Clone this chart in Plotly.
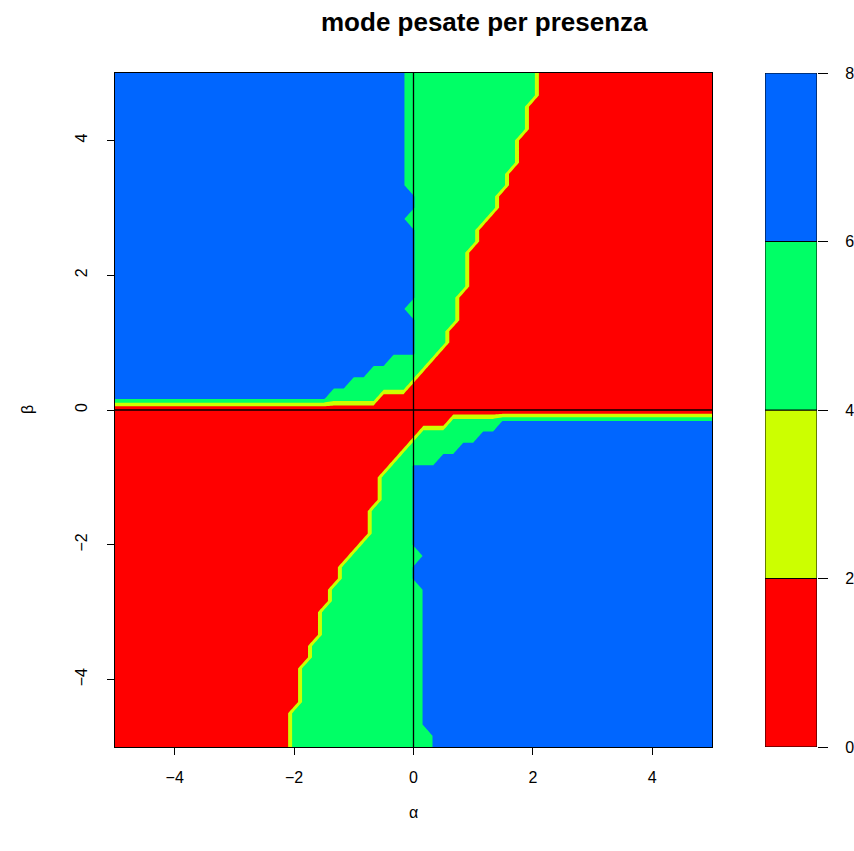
import numpy as np
import plotly.graph_objects as go

# Parameter grid (61 x 61, step 1/6)
alpha = np.linspace(-5, 5, 61)
beta = np.linspace(-5, 5, 61)

# Weighted mode value carried by each region
mode_value = {"red": 0.0, "green": 5.0, "blue": 6.1}

# Rows beta > 0 (beta = 1/6 ... 5): blue left of green start, red from red start
upper_green_start = [22, 24, 26, 28, 31, 31, 31, 31, 30, 31, 31, 31, 31, 31, 31,
                     31, 30, 31, 31, 30, 30, 30, 30, 30, 30, 30, 30, 30, 30, 30]
upper_red_start = [27, 30, 31, 32, 33, 34, 34, 35, 35, 35, 36, 36, 36, 36, 37,
                   37, 38, 39, 39, 40, 40, 41, 41, 41, 42, 42, 42, 43, 43, 43]

# Rows beta < 0 (beta = -5 ... -1/6): red left of green start, blue from blue start
lower_green_start = [18, 18, 18, 18, 19, 19, 19, 19, 20, 20, 21, 21, 21, 22, 22,
                     23, 23, 24, 25, 26, 26, 26, 27, 27, 27, 28, 29, 30, 31, 34]
lower_blue_start = [32, 32, 31, 31, 31, 31, 31, 31, 31, 31, 31, 31, 31, 31, 31,
                    30, 30, 31, 30, 30, 30, 30, 30, 30, 30, 30, 33, 35, 37, 39]

# Contour levels and the colours of the bands between them
levels = [0, 2, 4, 6, 8]
band_colors = ["#FF0000", "#CCFF00", "#00FF66", "#0066FF"]

n = len(alpha)
mid = n // 2
z = np.full((n, n), mode_value["red"])
for k in range(mid):
    j = k
    g0, b0 = lower_green_start[k], lower_blue_start[k]
    z[j, :g0] = mode_value["red"]
    z[j, g0:b0] = mode_value["green"]
    z[j, b0:] = mode_value["blue"]
for k in range(mid):
    j = mid + 1 + k
    g0, r0 = upper_green_start[k], upper_red_start[k]
    z[j, :g0] = mode_value["blue"]
    z[j, g0:r0] = mode_value["green"]
    z[j, r0:] = mode_value["red"]

# Step colour scale: plotly colours each filled band at its mid value
inner = levels[1:-1]
step = inner[1] - inner[0]
lo, hi = inner[0] - step / 2, inner[-1] + step / 2
cuts = [(lv - lo) / (hi - lo) for lv in inner]
colorscale = []
edges = [0.0] + cuts + [1.0]
for c, a, b in zip(band_colors, edges[:-1], edges[1:]):
    colorscale += [[a, c], [b, c]]

W, H = 854, 851
px0, px1 = 115, 712
py_top, py_bot = 73, 747
kx0, kx1 = 765, 817

family = "Liberation Sans, Arial, sans-serif"
font = dict(family=family, size=16, color="black")

fig = go.Figure()
fig.add_trace(go.Contour(
    x=alpha, y=beta, z=z,
    autocontour=False,
    contours=dict(start=inner[0], end=inner[-1], size=step,
                  coloring="fill", showlines=False),
    line=dict(width=0, smoothing=0),
    colorscale=colorscale, showscale=False, hoverinfo="skip",
    xaxis="x", yaxis="y",
))

# Colour key: one box per band
fig.add_trace(go.Bar(
    x=[0] * (len(levels) - 1),
    y=[b - a for a, b in zip(levels[:-1], levels[1:])],
    base=levels[:-1],
    width=1,
    marker=dict(color=band_colors, line=dict(color="black", width=1)),
    xaxis="x2", yaxis="y2", hoverinfo="skip", showlegend=False,
))

axis_common = dict(
    showline=True, linecolor="black", linewidth=1, mirror=True,
    ticks="outside", ticklen=7, tickwidth=1, tickcolor="black",
    showgrid=False, zeroline=False, tickfont=font, automargin=False,
)

fig.update_layout(
    width=W, height=H,
    margin=dict(l=0, r=0, t=0, b=0, pad=0, autoexpand=False),
    paper_bgcolor="white", plot_bgcolor="white",
    barmode="overlay",
    showlegend=False,
    xaxis=dict(domain=[px0 / W, px1 / W], range=[-5, 5],
               tickvals=[-4, -2, 0, 2, 4], anchor="y", ticklabelstandoff=9,
               **axis_common),
    yaxis=dict(domain=[1 - py_bot / H, 1 - py_top / H], range=[-5, 5],
               tickvals=[-4, -2, 0, 2, 4], tickangle=-90, anchor="x",
               ticklabelstandoff=14, **axis_common),
    xaxis2=dict(domain=[kx0 / W, kx1 / W], range=[-0.5, 0.5],
                showticklabels=False, ticks="", showgrid=False,
                zeroline=False, showline=False, anchor="y2", automargin=False),
    yaxis2=dict(domain=[1 - py_bot / H, 1 - py_top / H], range=[levels[0], levels[-1]],
                side="right", anchor="x2", tickvals=levels,
                showline=False, ticks="outside", ticklen=10, tickwidth=1,
                tickcolor="black", showgrid=False, zeroline=False, tickfont=font,
                ticklabelstandoff=14, automargin=False),
    annotations=[
        dict(text="<b>mode pesate per presenza</b>", x=(px0 + W) / 2 / W, y=1 - 22 / H,
             xref="paper", yref="paper", xanchor="center", yanchor="middle",
             showarrow=False, font=dict(family=family, size=26, color="black")),
        dict(text="α", x=(px0 + px1) / 2 / W, y=1 - 812 / H, xref="paper", yref="paper",
             xanchor="center", yanchor="middle", showarrow=False, font=font),
        dict(text="β", x=27 / W, y=1 - 410 / H, xref="paper", yref="paper",
             xanchor="center", yanchor="middle",
             showarrow=False, textangle=-90, font=font),
    ],
    shapes=[
        dict(type="line", xref="x", yref="y", x0=0, x1=0, y0=-5, y1=5,
             line=dict(color="black", width=1.3)),
        dict(type="line", xref="x", yref="y", x0=-5, x1=5, y0=0, y1=0,
             line=dict(color="black", width=1.3)),
    ],
)

fig.write_html("out.html")
